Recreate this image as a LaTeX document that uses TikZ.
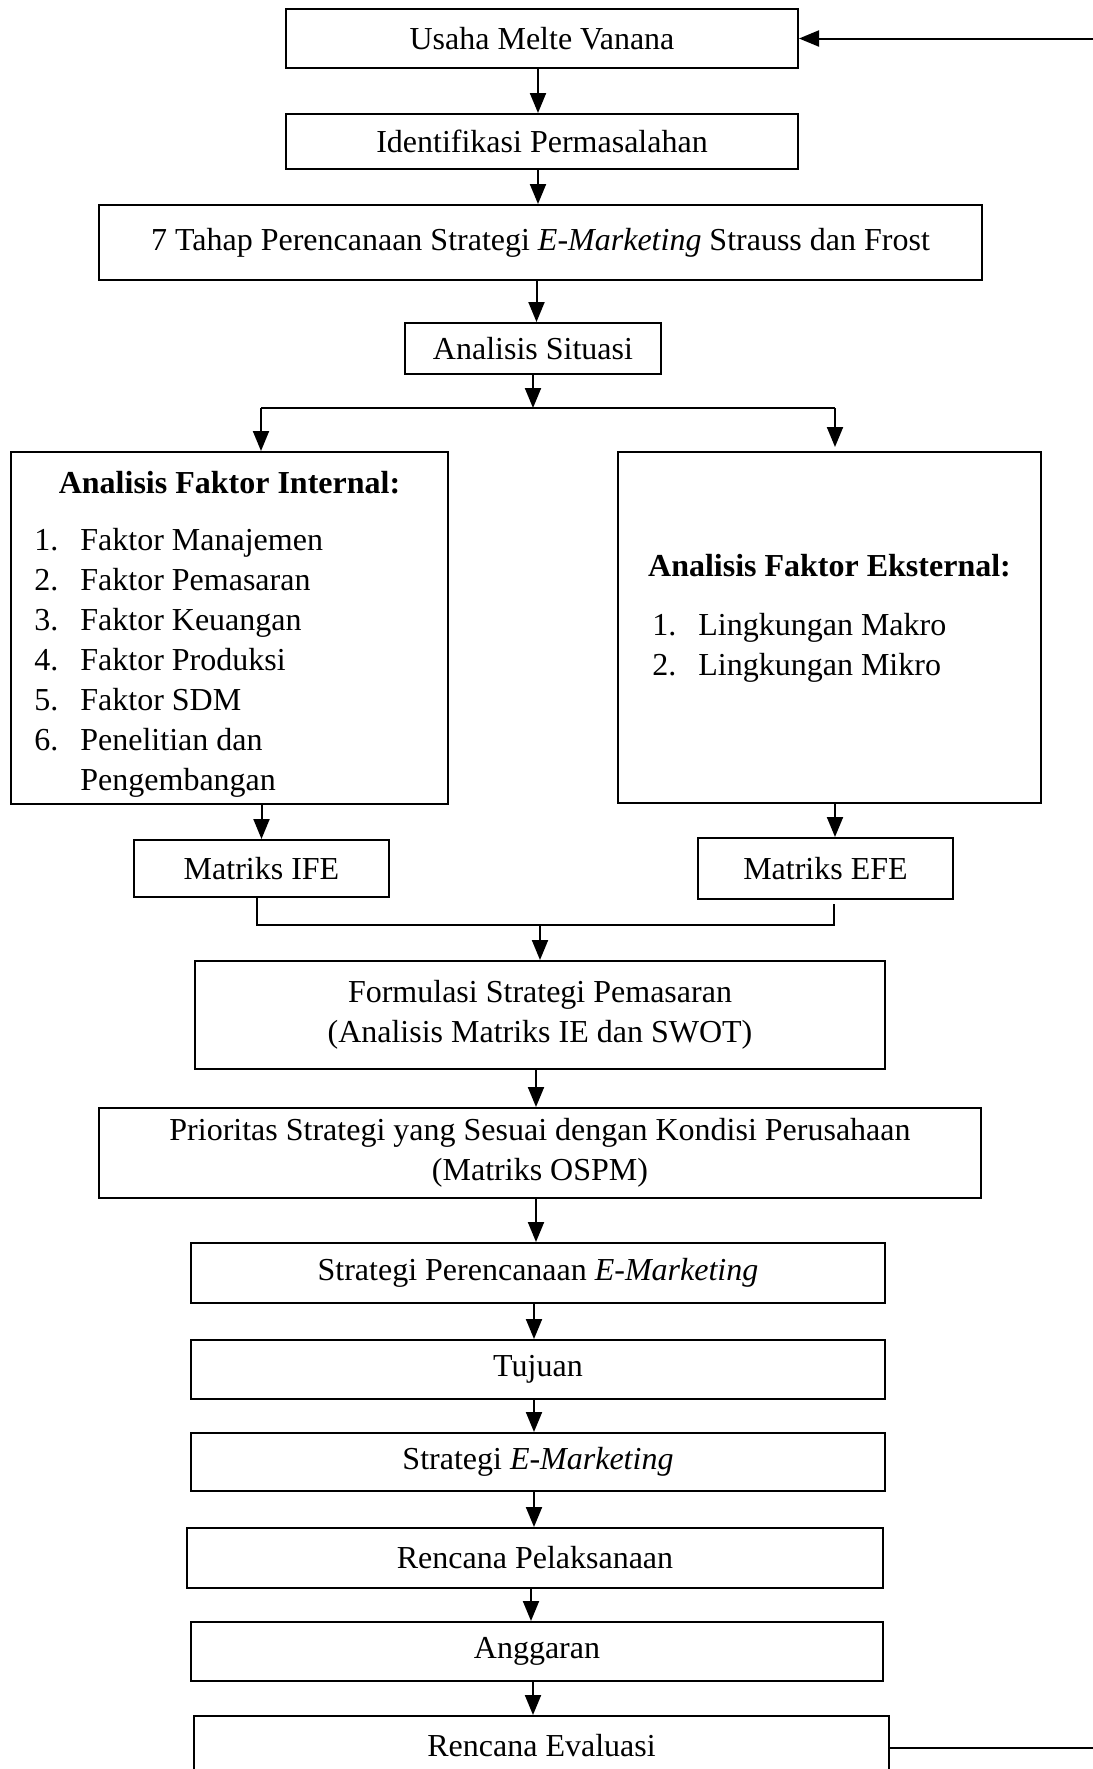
\documentclass[tikz,border=0pt]{standalone}
\usepackage{fontspec}
\setmainfont{Liberation Serif}
\usetikzlibrary{arrows.meta}

\begin{document}
\begin{tikzpicture}[x=0.5pt, y=-0.5pt,
  every node/.style = {font=\fontsize{16}{20}\selectfont},
  flowbox/.style 2 args = {shape=rectangle, draw, line width=1pt,
    align=center, inner sep=0pt, minimum width=#1, minimum height=#2},
  arr/.style = {-{Triangle[length=10pt,width=8pt]}, line width=1pt},
  thinline/.style = {line width=0.65pt}]
  \useasboundingbox (0,0) rectangle (1093,1769);
  \clip (0,0) rectangle (1093,1769);
  \node[flowbox={256pt}{29.5pt}] (usaha) at (542,38.5) {Usaha Melte Vanana};
  \node[flowbox={256pt}{27.5pt}] (ident) at (542,141.5) {Identifikasi Permasalahan};
  \node[flowbox={441.5pt}{37.5pt}] (tahap) at (540.5,242.5)
    {7 Tahap Perencanaan Strategi \textit{E-Marketing} Strauss dan Frost};
  \node[flowbox={128pt}{25.5pt}] (situasi) at (533,348.5) {Analisis Situasi};
  % analisis faktor
  \node[flowbox={218.5pt}{176pt}] (internal) at (229.5,628) {};
  \node[font=\fontsize{16}{20}\selectfont\bfseries] (internalT) at (229.5,483)
    {Analisis Faktor Internal:};
  \node[anchor=west, inner sep=0pt] (internalL) at (34,662) {%
    \begin{tabular}{@{}p{23pt}@{}l@{}}
      1. & Faktor Manajemen\\
      2. & Faktor Pemasaran\\
      3. & Faktor Keuangan\\
      4. & Faktor Produksi\\
      5. & Faktor SDM\\
      6. & Penelitian dan\\
         & Pengembangan
    \end{tabular}};
  \node[flowbox={211.5pt}{175.5pt}] (external) at (829.5,627.5) {};
  \node[font=\fontsize{16}{20}\selectfont\bfseries] (externalT) at (829.5,566)
    {Analisis Faktor Eksternal:};
  \node[anchor=west, inner sep=0pt] (externalL) at (652,647.5) {%
    \begin{tabular}{@{}p{23pt}@{}l@{}}
      1. & Lingkungan Makro\\
      2. & Lingkungan Mikro
    \end{tabular}};
  \node[flowbox={127.5pt}{28.5pt}] (ife) at (261.5,868.5) {Matriks IFE};
  \node[flowbox={127.5pt}{30.5pt}] (efe) at (825.5,868.5) {Matriks EFE};
  % formulasi dan tahap e-marketing
  \node[flowbox={345pt}{54pt}] (formulasi) at (540,1015)
    {Formulasi Strategi Pemasaran\\(Analisis Matriks IE dan SWOT)};
  \node[flowbox={441pt}{45pt}] (prioritas) at (540,1153)
    {Prioritas Strategi yang Sesuai dengan Kondisi Perusahaan\\(Matriks OSPM)};
  \node[flowbox={347pt}{30pt}] (strategi) at (538,1273)
    {Strategi Perencanaan \textit{E-Marketing}};
  \node[flowbox={347pt}{29.5pt}] (tujuan) at (538,1369.5) {Tujuan};
  \node[flowbox={347pt}{29pt}] (emarketing) at (538,1462)
    {Strategi \textit{E-Marketing}};
  \node[flowbox={348pt}{30pt}] (pelaksanaan) at (535,1558) {Rencana Pelaksanaan};
  \node[flowbox={346pt}{29.5pt}] (anggaran) at (537,1651.5) {Anggaran};
  \node[flowbox={347.5pt}{30pt}] (evaluasi) at (541.5,1746) {Rencana Evaluasi};

  \coordinate (splitL) at (261,408);
  \coordinate (splitR) at (835,408);
  \coordinate (mergeL) at (257,925);
  \coordinate (mergeR) at (834,925);
  \coordinate (loop) at (1100,1748);

  \foreach \a/\b in {usaha/ident, ident/tahap, tahap/situasi,
      formulasi/prioritas, prioritas/strategi, strategi/tujuan,
      tujuan/emarketing, emarketing/pelaksanaan,
      pelaksanaan/anggaran, anggaran/evaluasi}
    \draw[arr] ([xshift=-2pt]\a.south) -- ([xshift=-2pt]\a.south |- \b.north);
  \draw[arr] (situasi.south) -- (situasi.south |- splitL);
  \draw[thinline] (splitL) -- (splitR);
  \draw[arr] (splitL) -- (splitL |- internal.north);
  \draw[arr] (splitR) -- ([yshift=2pt]splitR |- external.north);
  \draw[arr] (internal.south -| ife.north) -- (ife.north);
  \draw[arr] (external.south -| splitR) -- (splitR |- efe.north);
  \draw[thinline] (ife.south -| mergeL) -- (mergeL) -- (mergeR)
    -- ([yshift=-2pt]efe.south -| mergeR);
  \draw[arr] (formulasi.north |- mergeL) -- (formulasi.north);
  \draw[thinline] (evaluasi.east |- loop) -- (loop);
  \draw[arr] (loop) |- (usaha.east);
\end{tikzpicture}
\end{document}
